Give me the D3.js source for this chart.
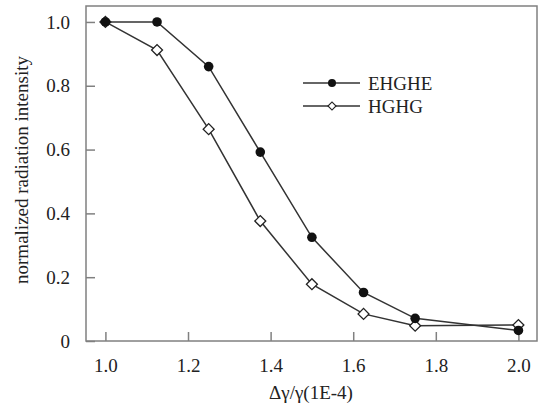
<!DOCTYPE html>
<html><head><meta charset="utf-8">
<script src="https://cdn.jsdelivr.net/npm/d3@7"></script>
<style>body{margin:0;background:#fff}svg{display:block}svg text{font-family:"Liberation Serif","Times New Roman",serif !important}</style>
</head><body><svg id="c" width="540" height="406"></svg>
<script>
const xVals = [1.0, 1.125, 1.25, 1.375, 1.5, 1.625, 1.75, 2.0];
const ehghe = [1.0, 1.0, 0.86, 0.592, 0.325, 0.152, 0.071, 0.033];
const hghg  = [1.0, 0.912, 0.664, 0.376, 0.178, 0.085, 0.048, 0.05];
const seriesNames = ["EHGHE", "HGHG"];
const xTicks = [1.0, 1.2, 1.4, 1.6, 1.8, 2.0];
const yTicks = [0, 0.2, 0.4, 0.6, 0.8, 1.0];
const xTitle = "Δγ/γ(1E-4)";
const yTitle = "normalized radiation intensity";

const FONT = '"Liberation Serif", "Times New Roman", serif';
const svg = d3.select("#c").attr("font-family", FONT);
const L = 86, R = 537, T = 6, B = 341;
const x = d3.scaleLinear().domain([0.953, 2.045]).range([L, R]);
const y = d3.scaleLinear().domain([0, 1.05]).range([B, T]);
const axisCol = "#808080";

svg.append("rect").attr("x", L).attr("y", T).attr("width", R - L).attr("height", B - T)
  .attr("fill", "none").attr("stroke", axisCol).attr("stroke-width", 1.5);

const xAxis = svg.append("g").attr("transform", `translate(0,${B})`)
  .call(d3.axisBottom(x).tickValues(xTicks).tickSize(-9).tickPadding(18).tickFormat(d3.format(".1f")));
const yAxis = svg.append("g").attr("transform", `translate(${L},0)`)
  .call(d3.axisLeft(y).tickValues(yTicks).tickSize(-9).tickPadding(16).tickFormat(d => d === 0 ? "0" : d3.format(".1f")(d)));
[xAxis, yAxis].forEach(g => {
  g.attr("font-family", FONT).attr("font-size", 19);
  g.select(".domain").remove();
  g.selectAll(".tick line").attr("stroke", axisCol).attr("stroke-width", 1.5);
  g.selectAll(".tick text").attr("fill", "#222");
});

svg.append("text").attr("x", 311).attr("y", 399).attr("text-anchor", "middle")
  .attr("font-size", 19).attr("fill", "#222").text(xTitle);
svg.append("text").attr("transform", "translate(28,170) rotate(-90)").attr("text-anchor", "middle")
  .attr("font-size", 19).attr("fill", "#222").text(yTitle);

const line = d3.line().x((d, i) => x(xVals[i])).y(d => y(d));
const lineCol = "#333";
[ehghe, hghg].forEach(s => {
  svg.append("path").datum(s).attr("d", line).attr("fill", "none")
    .attr("stroke", lineCol).attr("stroke-width", 1.5);
});
const diamondPath = size => d3.symbol().type(d3.symbolSquare).size(size)();
svg.append("g").selectAll("path").data(hghg).join("path")
  .attr("transform", (d, i) => `translate(${x(xVals[i])},${y(d)}) rotate(45)`)
  .attr("d", diamondPath(60))
  .attr("fill", "#fff").attr("stroke", "#222").attr("stroke-width", 1.3);
svg.append("g").selectAll("circle").data(ehghe).join("circle")
  .attr("cx", (d, i) => x(xVals[i])).attr("cy", d => y(d)).attr("r", 4.8)
  .attr("fill", "#111");

const leg = svg.append("g");
const legY = [83, 106];
seriesNames.forEach((n, i) => {
  leg.append("line").attr("x1", 303).attr("x2", 360).attr("y1", legY[i]).attr("y2", legY[i])
    .attr("stroke", lineCol).attr("stroke-width", 1.5);
  if (i === 0) leg.append("circle").attr("cx", 332).attr("cy", legY[i]).attr("r", 4).attr("fill", "#111");
  else leg.append("path").attr("transform", `translate(332,${legY[i]}) rotate(45)`)
    .attr("d", diamondPath(32)).attr("fill", "#fff")
    .attr("stroke", "#222").attr("stroke-width", 1.2);
  leg.append("text").attr("x", 368).attr("y", legY[i]).attr("dy", "0.35em")
    .attr("font-size", 19).attr("fill", "#222").text(n);
});
</script></body></html>
